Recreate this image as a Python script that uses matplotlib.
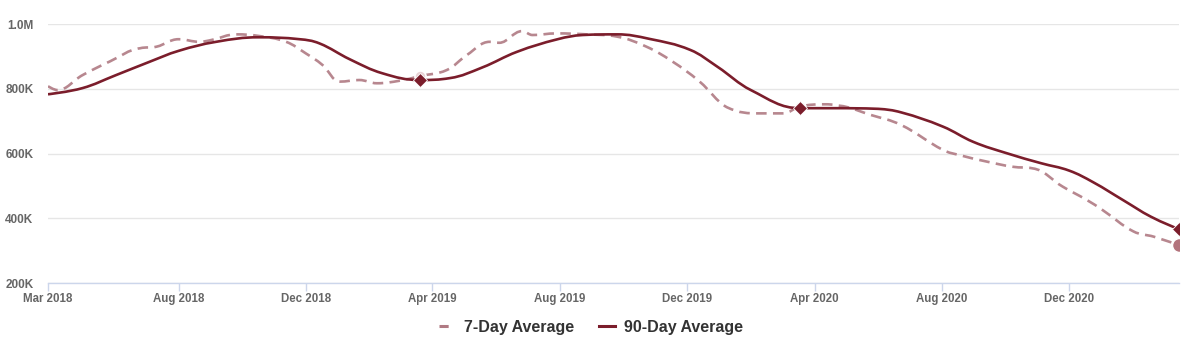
import matplotlib
matplotlib.use("Agg")
import matplotlib.pyplot as plt
import matplotlib.dates as mdates
from matplotlib.lines import Line2D
from matplotlib.path import Path
from matplotlib.patches import PathPatch
from matplotlib.ticker import FuncFormatter
import pandas as pd

plt.rcParams['font.family'] = ['Liberation Sans', 'DejaVu Sans']

# 90-day average
dates_90 = ["2018-03-29", "2018-05-01", "2018-06-02", "2018-07-04", "2018-08-01",
            "2018-09-06", "2018-10-17", "2018-11-25", "2018-12-14", "2019-01-12",
            "2019-02-12", "2019-03-20", "2019-04-18", "2019-05-19", "2019-06-21",
            "2019-07-30", "2019-08-23", "2019-09-25", "2019-10-26", "2019-12-04",
            "2019-12-30", "2020-01-31", "2020-03-18", "2020-04-20", "2020-06-01",
            "2020-06-23", "2020-08-02", "2020-08-31", "2020-10-03", "2020-11-04",
            "2020-12-01", "2020-12-24", "2021-01-22", "2021-02-17", "2021-03-16"]
avg_90 = [783, 802, 842, 883, 917,
          945, 959, 953, 940, 891,
          848, 827, 833, 866, 914,
          953, 966, 968, 954, 920,
          868, 796, 740, 740, 738,
          727, 683, 636, 600, 570,
          547, 511, 455, 405, 366]

# 7-day average
dates_7 = ["2018-03-29", "2018-04-07", "2018-05-01", "2018-05-27", "2018-06-25",
           "2018-07-11", "2018-08-01", "2018-08-21", "2018-09-02", "2018-09-25",
           "2018-10-17", "2018-11-12", "2018-12-01", "2018-12-17", "2019-01-02",
           "2019-01-21", "2019-02-07", "2019-03-01", "2019-03-20", "2019-04-15",
           "2019-05-04", "2019-05-26", "2019-06-04", "2019-06-26", "2019-07-06",
           "2019-07-29", "2019-08-27", "2019-09-25", "2019-10-23", "2019-11-17",
           "2019-12-13", "2020-01-08", "2020-02-09", "2020-03-02", "2020-03-18",
           "2020-04-10", "2020-04-24", "2020-05-25", "2020-06-23", "2020-08-02",
           "2020-08-18", "2020-09-13", "2020-10-08", "2020-10-27", "2020-11-25",
           "2020-12-18", "2021-01-02", "2021-01-31", "2021-02-20", "2021-03-16"]
avg_7 = [808, 796, 842, 884, 925,
         930, 953, 945, 951, 968,
         963, 945, 909, 873, 822,
         827, 817, 825, 839, 858,
         904, 945, 942, 978, 966,
         971, 968, 961, 930, 884,
         822, 743, 724, 724, 745,
         752, 748, 719, 688, 611,
         595, 575, 559, 554, 497,
         456, 425, 360, 343, 317]

tick_dates = ["2018-03-29", "2018-08-01", "2018-12-01", "2019-04-01", "2019-08-01",
              "2019-12-01", "2020-04-01", "2020-08-01", "2020-12-01"]
tick_labels = ["Mar 2018", "Aug 2018", "Dec 2018", "Apr 2019", "Aug 2019",
               "Dec 2019", "Apr 2020", "Aug 2020", "Dec 2020"]
marked_dates = ["2019-03-20", "2020-03-18", "2021-03-16"]


def spline_path(xs, ys, smoothing=1.5):
    # bezier control points like a highcharts "spline" series
    n = len(xs)
    conts = []
    for i in range(n):
        px, py = xs[i], ys[i]
        if i == 0 or i == n - 1:
            conts.append(((px, py), (px, py)))
            continue
        lx, ly = xs[i - 1], ys[i - 1]
        nx, ny = xs[i + 1], ys[i + 1]
        d = smoothing + 1
        lcx, lcy = (smoothing * px + lx) / d, (smoothing * py + ly) / d
        rcx, rcy = (smoothing * px + nx) / d, (smoothing * py + ny) / d
        if rcx != lcx:
            corr = (rcy - lcy) * (rcx - px) / (rcx - lcx) + py - rcy
            lcy += corr
            rcy += corr
        if lcy > ly and lcy > py:
            lcy = max(ly, py)
            rcy = 2 * py - lcy
        elif lcy < ly and lcy < py:
            lcy = min(ly, py)
            rcy = 2 * py - lcy
        if rcy > ny and rcy > py:
            rcy = max(ny, py)
            lcy = 2 * py - rcy
        elif rcy < ny and rcy < py:
            rcy = min(ny, py)
            lcy = 2 * py - rcy
        conts.append(((lcx, lcy), (rcx, rcy)))
    verts = [(xs[0], ys[0])]
    codes = [Path.MOVETO]
    for i in range(1, n):
        verts += [conts[i - 1][1], conts[i][0], (xs[i], ys[i])]
        codes += [Path.CURVE4] * 3
    return Path(verts, codes)


x90 = pd.to_datetime(dates_90)
x7 = pd.to_datetime(dates_7)
y90 = [v * 1000 for v in avg_90]
y7 = [v * 1000 for v in avg_7]

dark = "#7b1d2b"
pink = "#b07a83"

fig = plt.figure(figsize=(12, 3.41), dpi=100)
ax = fig.add_axes([0.04, 0.17, 0.9425, 0.7596])

# highlighted points (also sets up the date axis)
for d in marked_dates[:2]:
    i = dates_7.index(d)
    ax.plot(x7[i], y7[i], 'o', ms=8, color="#e9d3d6", mec="white", mew=1.2, zorder=3.5)
ax.plot(x7[-1], y7[-1], 'o', ms=10, color="#b3737c", mec="white", mew=1, zorder=5)
for d in marked_dates:
    i = dates_90.index(d)
    ax.plot(x90[i], y90[i], 'D', ms=7, color=dark, mec="white", mew=0.6, zorder=6)

p7 = spline_path(list(mdates.date2num(x7)), y7)
p90 = spline_path(list(mdates.date2num(x90)), y90)
ax.add_patch(PathPatch(p7, fill=False, edgecolor=pink, lw=1.9, alpha=0.9,
                       linestyle=(0, (4, 2.4)), capstyle="butt", zorder=3))
ax.add_patch(PathPatch(p90, fill=False, edgecolor=dark, lw=1.9, zorder=4))

ax.set_xlim(pd.Timestamp("2018-03-29"), pd.Timestamp("2021-03-16"))
ax.set_ylim(200000, 1000000)
ax.set_yticks([200000, 400000, 600000, 800000, 1000000])
ax.yaxis.set_major_formatter(FuncFormatter(
    lambda v, p: "1.0M" if v >= 1e6 else "%dK" % (v / 1000)))
ax.set_xticks(pd.to_datetime(tick_dates))
ax.set_xticklabels(tick_labels)

ax.grid(axis='y', color="#e6e6e6", lw=1)
ax.set_axisbelow(True)
for s in ["top", "right", "left"]:
    ax.spines[s].set_visible(False)
ax.spines["bottom"].set_color("#ccd6eb")
ax.spines["bottom"].set_linewidth(1)
ax.tick_params(axis='x', colors="#ccd6eb", length=6, width=1, labelcolor="#666666",
               labelsize=8.3, pad=1.5)
ax.tick_params(axis='y', length=0, labelcolor="#666666", labelsize=8.5, pad=10.5)
for lab in ax.get_xticklabels() + ax.get_yticklabels():
    lab.set_fontweight("bold")

handles = [Line2D([], [], color=pink, lw=2.2, dashes=(3, 6)),
           Line2D([], [], color=dark, lw=2.2)]
leg = fig.legend(handles, ["7-Day Average", "90-Day Average"], loc="center",
                 bbox_to_anchor=(0.4925, 0.04), ncol=2, frameon=False,
                 handlelength=1.0, handletextpad=0.6, columnspacing=1.5,
                 prop={"weight": "bold", "size": 11.5})
for t in leg.get_texts():
    t.set_color("#333333")

fig.savefig("out.png", dpi=100, facecolor="white")
